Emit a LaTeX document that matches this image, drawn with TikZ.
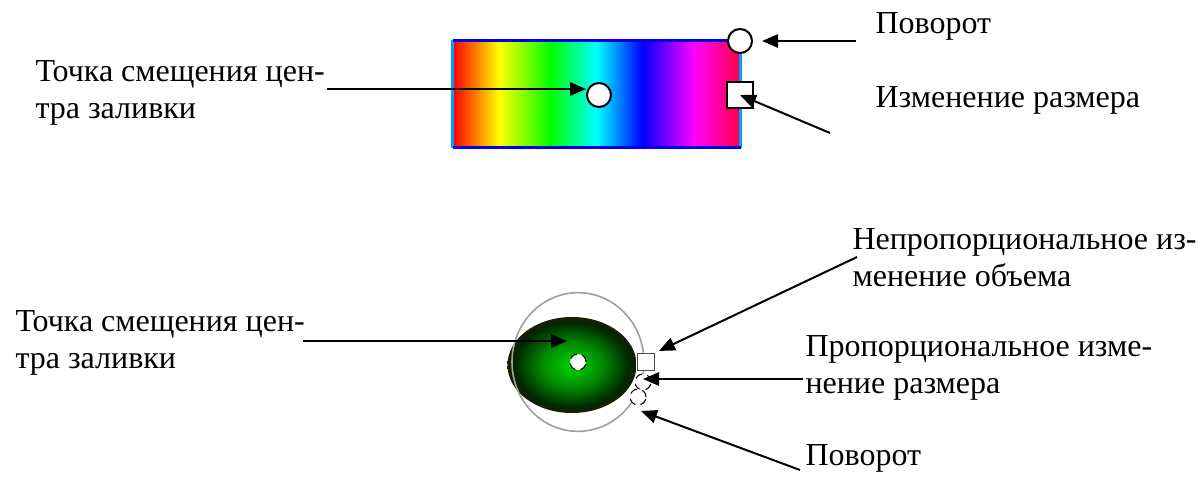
\documentclass[tikz,border=0pt]{standalone}
\usepackage{fontspec}
\setmainfont{Liberation Serif}
\usetikzlibrary{arrows.meta,shapes.geometric}

\definecolor{rimred}{RGB}{255,0,70}
\definecolor{edgedark}{RGB}{0,0,235}
\definecolor{edgelight}{RGB}{0,160,255}
\definecolor{gcenter}{RGB}{0,215,0}
\definecolor{gmid}{RGB}{0,135,0}
\definecolor{gdark}{RGB}{0,40,0}
\definecolor{grim}{RGB}{25,30,0}

\pgfdeclarehorizontalshading{spectrum}{100bp}{color(0bp)=(red); color(25bp)=(red);
  color(29bp)=(orange); color(33bp)=(yellow); color(42bp)=(green); color(50bp)=(cyan);
  color(58bp)=(blue); color(67bp)=(magenta); color(75bp)=(rimred); color(100bp)=(rimred)}
\pgfdeclareradialshading{greenball}{\pgfpoint{0bp}{0bp}}{color(0bp)=(gcenter);
  color(12bp)=(gmid); color(22bp)=(gdark); color(25bp)=(grim); color(50bp)=(grim)}

\begin{document}
\begin{tikzpicture}[
  x=0.375pt, y=-0.375pt,
  lbl/.style={font=\fontsize{12}{13.6}\selectfont, align=left, inner sep=0pt, anchor=base west},
  arr/.style={-{Triangle[length=6pt,width=5pt]}, line width=0.75pt},
  hring/.style={circle, draw, fill=white, line width=0.75pt, minimum size=9pt, inner sep=0pt},
  hsquare/.style={rectangle, draw, fill=white, line width=0.75pt, minimum size=9.4pt, inner sep=0pt},
  sring/.style={circle, draw, densely dashed, fill=white, line width=0.4pt, minimum size=6pt, inner sep=0pt},
  ssquare/.style={rectangle, draw=black!70, fill=white, line width=0.6pt, minimum size=6.4pt, inner sep=0pt}
]
\useasboundingbox (0,0) rectangle (1204,478);

% rectangle with spectrum fill
\node[rectangle, shading=spectrum, inner sep=0pt, minimum width=107.6pt, minimum height=39.75pt] (grad) at (596.5,94) {};
\draw[edgelight, line width=1pt] (grad.north west) -- (grad.south west);
\draw[edgelight, line width=1pt] (grad.north east) -- (grad.south east);
\draw[edgedark, line width=1pt] (grad.north west) -- (grad.north east);
\draw[edgedark, line width=1pt] (grad.south west) -- (grad.south east);

\node[hring] (offH) at (599,95) {};
\node[hring] (rotH) at (740,41) {};
\node[hsquare] (sizeH) at (740,95) {};

\node[lbl] (offL) at (35,118) {Точка смещения цен-\\тра заливки};
\node[lbl] (rotL) at (875,33) {Поворот};
\node[lbl] (sizeL) at (875,107) {Изменение размера};

\coordinate (offA) at (327,89);
\coordinate (rotA) at (856,41);
\coordinate (sizeA) at (830,133);
\draw[arr] (offA) -- (offA -| offH.west);
\draw[arr, shorten >=3.4pt] (rotA) -- (rotH);
\draw[arr] (sizeA) -- (sizeH.center);

% ellipse with radial fill
\node[ellipse, shading=greenball, inner sep=0pt, minimum width=48.4pt, minimum height=36pt] (ball) at (572,365) {};
\node[ellipse, draw=gray!75, line width=0.6pt, inner sep=0pt, minimum width=49.5pt, minimum height=52pt] (ring) at (578,362) {};
\node[sring] (ctrH) at (578,362) {};
\node[ssquare] (sqB) at (646,362) {};
\node[sring] (sr1) at (643,382) {};
\node[sring] (sr2) at (638,397) {};

\node[lbl] (offL2) at (15,368) {Точка смещения цен-\\тра заливки};
\node[lbl] (nonpL) at (852,286) {Непропорциональное из-\\менение объема};
\node[lbl] (propL) at (805,393) {Пропорциональное изме-\\нение размера};
\node[lbl] (rotL2) at (805,465) {Поворот};

\coordinate (offB) at (303,341);
\coordinate (ballT) at (567,341);
\coordinate (nonpA) at (857,257);
\coordinate (propA) at (803,379);
\coordinate (rotB) at (800,470);
\draw[arr] (offB) -- (ballT);
\draw[arr, shorten >=1.5pt] (nonpA) -- (sqB.north east);
\draw[arr] (propA) -- (propA -| sr1);
\draw[arr] (rotB) -- ([shift={(3,14)}]sr2.center);
\end{tikzpicture}
\end{document}
